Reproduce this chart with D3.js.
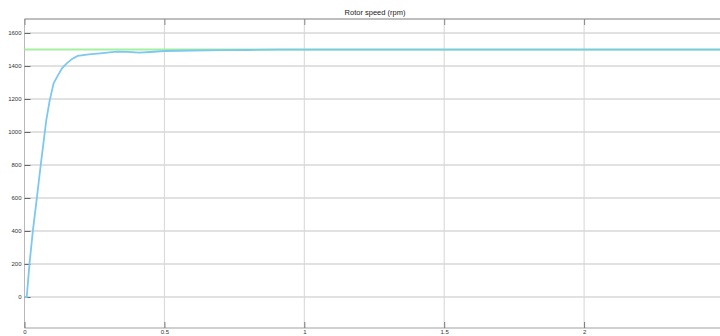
<!DOCTYPE html>
<html>
<head>
<meta charset="utf-8">
<script src="https://cdn.jsdelivr.net/npm/d3@7"></script>
<style>
  body { margin: 0; background: #fff; }
  svg { display: block; font-family: "Liberation Sans", Arial, sans-serif; }
</style>
</head>
<body>
<svg width="720" height="336"></svg>
<script>
// time axis (s) and rotor speed (rpm)
var timeS  = [0, 0.008, 0.018, 0.030, 0.044, 0.058, 0.078, 0.090, 0.104, 0.120, 0.134, 0.151, 0.170, 0.190, 0.230, 0.270, 0.330, 0.370, 0.410, 0.450, 0.500, 0.600, 0.700, 0.800, 0.900, 1.000, 1.200, 1.500, 2.000, 2.500];
var speed  = [0, 0, 204, 402, 598, 800, 1073, 1190, 1295, 1345, 1386, 1416, 1443, 1461, 1470, 1477, 1487, 1486, 1481, 1485, 1491, 1494, 1496, 1497, 1499, 1499, 1499, 1499, 1499, 1499];
var refTime  = [0, 2.5];
var refSpeed = [1500, 1500];

var yTicks = [0, 200, 400, 600, 800, 1000, 1200, 1400, 1600];
var xTicks = [0, 0.5, 1, 1.5, 2];
var title = "Rotor speed (rpm)";

var svg = d3.select("svg"),
    margin = {top: 19, right: -4, bottom: 8, left: 24.5},
    width = +svg.attr("width") - margin.left - margin.right,
    height = +svg.attr("height") - margin.top - margin.bottom,
    g = svg.append("g").attr("transform", "translate(" + margin.left + "," + margin.top + ")");

var x = d3.scaleLinear().domain([0, 2.5]).range([0, width]);
var y = d3.scaleLinear().domain([-188, 1685]).range([height, 0]);

// grid
g.append("g")
  .selectAll("line")
  .data(yTicks)
  .enter().append("line")
  .attr("x1", 0).attr("x2", width)
  .attr("y1", function(d) { return y(d); })
  .attr("y2", function(d) { return y(d); })
  .attr("stroke", "#c4c4c4")
  .attr("stroke-width", 1);

g.append("g")
  .selectAll("line")
  .data(xTicks.slice(1))
  .enter().append("line")
  .attr("y1", 0).attr("y2", height)
  .attr("x1", function(d) { return x(d); })
  .attr("x2", function(d) { return x(d); })
  .attr("stroke", "#d6d6d6")
  .attr("stroke-width", 1);

// frame
g.append("line").attr("x1", 0).attr("x2", width).attr("y1", 0).attr("y2", 0)
  .attr("stroke", "#a8a8a8").attr("stroke-width", 1.6);
g.append("line").attr("x1", 0).attr("x2", width).attr("y1", height).attr("y2", height)
  .attr("stroke", "#c0c0c0").attr("stroke-width", 1.6);
g.append("line").attr("x1", 0).attr("x2", 0).attr("y1", 0).attr("y2", height)
  .attr("stroke", "#b8b8b8").attr("stroke-width", 1);

// axes (ticks point inwards)
var yAxis = g.append("g")
  .call(d3.axisLeft(y).tickValues(yTicks).tickFormat(d3.format("d")).tickSizeInner(-6).tickSizeOuter(0).tickPadding(3));
yAxis.select(".domain").remove();
yAxis.selectAll("line").attr("stroke", "#666");
yAxis.selectAll("text").attr("font-size", 6).attr("fill", "#333");

var xAxis = g.append("g")
  .attr("transform", "translate(0," + height + ")")
  .call(d3.axisBottom(x).tickValues(xTicks).tickFormat(d3.format("")).tickSizeInner(-6).tickSizeOuter(0).tickPadding(3));
xAxis.select(".domain").remove();
xAxis.selectAll("line").attr("stroke", "#777");
xAxis.selectAll("text").attr("font-size", 6).attr("fill", "#333").attr("dy", "0.5em");

var xTop = g.append("g")
  .call(d3.axisTop(x).tickValues(xTicks).tickFormat("").tickSizeInner(-6).tickSizeOuter(0));
xTop.select(".domain").remove();
xTop.selectAll("line").attr("stroke", "#888");

// series
var line = d3.line()
  .x(function(d) { return x(d[0]); })
  .y(function(d) { return y(d[1]); });

g.append("path")
  .datum(d3.zip(refTime, refSpeed))
  .attr("fill", "none")
  .attr("stroke", "#a4f0a0")
  .attr("stroke-width", 2)
  .attr("d", line);

g.append("path")
  .datum(d3.zip(timeS, speed))
  .attr("fill", "none")
  .attr("stroke", "#7cc8f0")
  .attr("stroke-width", 1.8)
  .attr("d", line);

// title
svg.append("text")
  .attr("x", 375)
  .attr("y", 15)
  .attr("text-anchor", "middle")
  .attr("font-size", 7.5)
  .attr("fill", "#222")
  .text(title);
</script>
</body>
</html>
